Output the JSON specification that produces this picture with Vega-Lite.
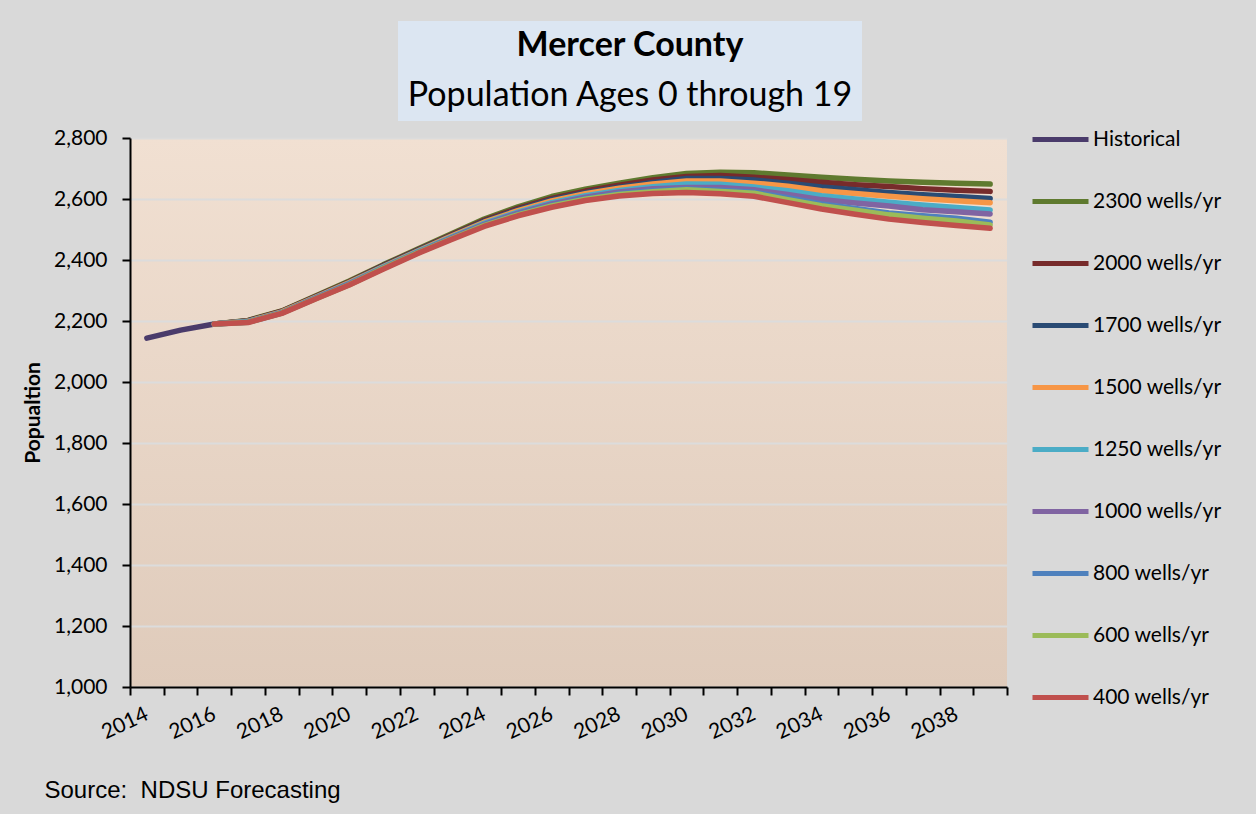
{
  "$schema": "https://vega.github.io/schema/vega-lite/v6.json",
  "background": "#d9d9d9",
  "padding": {"left": 22, "top": 21, "right": 34, "bottom": 23},
  "config": {"font": "Lato", "view": {"stroke": null}},
  "spacing": -12,
  "resolve": {"legend": {"color": "independent"}},
  "vconcat": [
    {
      "spacing": 0,
      "hconcat": [
        {
          "width": 268,
          "height": 100,
          "data": {"values": []},
          "mark": {"type": "text"},
          "encoding": {}
        },
        {
          "width": 464,
          "height": 100,
          "view": {"fill": "#dce6f2", "stroke": null},
          "layer": [
            {
              "data": {"values": [{"line": 1, "text": "Mercer County"}]},
              "mark": {"type": "text", "font": "Lato", "fontSize": 34, "fontWeight": "bold", "color": "#000", "baseline": "middle"},
              "encoding": {
                "y": {"field": "line", "type": "ordinal", "axis": null, "scale": {"domain": [1, 2], "padding": 0.5}},
                "text": {"field": "text"}
              }
            },
            {
              "data": {"values": [{"line": 2, "text": "Population Ages 0 through 19"}]},
              "mark": {"type": "text", "font": "Lato", "fontSize": 34, "fontWeight": "normal", "color": "#000", "baseline": "middle"},
              "encoding": {
                "y": {"field": "line", "type": "ordinal", "axis": null, "scale": {"domain": [1, 2], "padding": 0.5}},
                "text": {"field": "text"}
              }
            }
          ]
        }
      ]
    },
    {
      "width": 877,
      "height": 549,
      "view": {"fill": {"gradient": "linear", "x1": 0, "y1": 0, "x2": 0, "y2": 1, "stops": [{"offset": 0, "color": "#f1e0d2"}, {"offset": 1, "color": "#dfcbbb"}]}, "stroke": null},
      "title": {"text": "Source:\u00a0 NDSU Forecasting", "orient": "bottom", "anchor": "start", "frame": "bounds", "font": "Liberation Sans", "fontSize": 24, "fontWeight": "normal", "color": "#000", "dx": 22, "offset": 36},
      "data": {"values": [
        {"year": 2014, "series": "Historical", "pop": 2144},
        {"year": 2015, "series": "Historical", "pop": 2170},
        {"year": 2016, "series": "Historical", "pop": 2190},
        {"year": 2016, "series": "2300 wells/yr", "pop": 2190},
        {"year": 2017, "series": "2300 wells/yr", "pop": 2202},
        {"year": 2018, "series": "2300 wells/yr", "pop": 2233},
        {"year": 2019, "series": "2300 wells/yr", "pop": 2282},
        {"year": 2020, "series": "2300 wells/yr", "pop": 2331},
        {"year": 2021, "series": "2300 wells/yr", "pop": 2384},
        {"year": 2022, "series": "2300 wells/yr", "pop": 2434},
        {"year": 2023, "series": "2300 wells/yr", "pop": 2484},
        {"year": 2024, "series": "2300 wells/yr", "pop": 2534},
        {"year": 2025, "series": "2300 wells/yr", "pop": 2574},
        {"year": 2026, "series": "2300 wells/yr", "pop": 2608},
        {"year": 2027, "series": "2300 wells/yr", "pop": 2632},
        {"year": 2028, "series": "2300 wells/yr", "pop": 2652},
        {"year": 2029, "series": "2300 wells/yr", "pop": 2670},
        {"year": 2030, "series": "2300 wells/yr", "pop": 2684},
        {"year": 2031, "series": "2300 wells/yr", "pop": 2688},
        {"year": 2032, "series": "2300 wells/yr", "pop": 2686},
        {"year": 2033, "series": "2300 wells/yr", "pop": 2679},
        {"year": 2034, "series": "2300 wells/yr", "pop": 2671},
        {"year": 2035, "series": "2300 wells/yr", "pop": 2665},
        {"year": 2036, "series": "2300 wells/yr", "pop": 2659},
        {"year": 2037, "series": "2300 wells/yr", "pop": 2655},
        {"year": 2038, "series": "2300 wells/yr", "pop": 2652},
        {"year": 2039, "series": "2300 wells/yr", "pop": 2649},
        {"year": 2016, "series": "2000 wells/yr", "pop": 2190},
        {"year": 2017, "series": "2000 wells/yr", "pop": 2201},
        {"year": 2018, "series": "2000 wells/yr", "pop": 2232},
        {"year": 2019, "series": "2000 wells/yr", "pop": 2280},
        {"year": 2020, "series": "2000 wells/yr", "pop": 2329},
        {"year": 2021, "series": "2000 wells/yr", "pop": 2382},
        {"year": 2022, "series": "2000 wells/yr", "pop": 2432},
        {"year": 2023, "series": "2000 wells/yr", "pop": 2481},
        {"year": 2024, "series": "2000 wells/yr", "pop": 2530},
        {"year": 2025, "series": "2000 wells/yr", "pop": 2569},
        {"year": 2026, "series": "2000 wells/yr", "pop": 2602},
        {"year": 2027, "series": "2000 wells/yr", "pop": 2626},
        {"year": 2028, "series": "2000 wells/yr", "pop": 2645},
        {"year": 2029, "series": "2000 wells/yr", "pop": 2662},
        {"year": 2030, "series": "2000 wells/yr", "pop": 2674},
        {"year": 2031, "series": "2000 wells/yr", "pop": 2677},
        {"year": 2032, "series": "2000 wells/yr", "pop": 2671},
        {"year": 2033, "series": "2000 wells/yr", "pop": 2664},
        {"year": 2034, "series": "2000 wells/yr", "pop": 2655},
        {"year": 2035, "series": "2000 wells/yr", "pop": 2647},
        {"year": 2036, "series": "2000 wells/yr", "pop": 2641},
        {"year": 2037, "series": "2000 wells/yr", "pop": 2634},
        {"year": 2038, "series": "2000 wells/yr", "pop": 2629},
        {"year": 2039, "series": "2000 wells/yr", "pop": 2625},
        {"year": 2016, "series": "1700 wells/yr", "pop": 2190},
        {"year": 2017, "series": "1700 wells/yr", "pop": 2200},
        {"year": 2018, "series": "1700 wells/yr", "pop": 2231},
        {"year": 2019, "series": "1700 wells/yr", "pop": 2279},
        {"year": 2020, "series": "1700 wells/yr", "pop": 2327},
        {"year": 2021, "series": "1700 wells/yr", "pop": 2380},
        {"year": 2022, "series": "1700 wells/yr", "pop": 2430},
        {"year": 2023, "series": "1700 wells/yr", "pop": 2479},
        {"year": 2024, "series": "1700 wells/yr", "pop": 2527},
        {"year": 2025, "series": "1700 wells/yr", "pop": 2565},
        {"year": 2026, "series": "1700 wells/yr", "pop": 2598},
        {"year": 2027, "series": "1700 wells/yr", "pop": 2621},
        {"year": 2028, "series": "1700 wells/yr", "pop": 2639},
        {"year": 2029, "series": "1700 wells/yr", "pop": 2654},
        {"year": 2030, "series": "1700 wells/yr", "pop": 2667},
        {"year": 2031, "series": "1700 wells/yr", "pop": 2667},
        {"year": 2032, "series": "1700 wells/yr", "pop": 2662},
        {"year": 2033, "series": "1700 wells/yr", "pop": 2652},
        {"year": 2034, "series": "1700 wells/yr", "pop": 2639},
        {"year": 2035, "series": "1700 wells/yr", "pop": 2630},
        {"year": 2036, "series": "1700 wells/yr", "pop": 2621},
        {"year": 2037, "series": "1700 wells/yr", "pop": 2614},
        {"year": 2038, "series": "1700 wells/yr", "pop": 2608},
        {"year": 2039, "series": "1700 wells/yr", "pop": 2602},
        {"year": 2016, "series": "1500 wells/yr", "pop": 2190},
        {"year": 2017, "series": "1500 wells/yr", "pop": 2199},
        {"year": 2018, "series": "1500 wells/yr", "pop": 2230},
        {"year": 2019, "series": "1500 wells/yr", "pop": 2278},
        {"year": 2020, "series": "1500 wells/yr", "pop": 2326},
        {"year": 2021, "series": "1500 wells/yr", "pop": 2378},
        {"year": 2022, "series": "1500 wells/yr", "pop": 2428},
        {"year": 2023, "series": "1500 wells/yr", "pop": 2477},
        {"year": 2024, "series": "1500 wells/yr", "pop": 2524},
        {"year": 2025, "series": "1500 wells/yr", "pop": 2562},
        {"year": 2026, "series": "1500 wells/yr", "pop": 2594},
        {"year": 2027, "series": "1500 wells/yr", "pop": 2617},
        {"year": 2028, "series": "1500 wells/yr", "pop": 2635},
        {"year": 2029, "series": "1500 wells/yr", "pop": 2649},
        {"year": 2030, "series": "1500 wells/yr", "pop": 2659},
        {"year": 2031, "series": "1500 wells/yr", "pop": 2659},
        {"year": 2032, "series": "1500 wells/yr", "pop": 2652},
        {"year": 2033, "series": "1500 wells/yr", "pop": 2642},
        {"year": 2034, "series": "1500 wells/yr", "pop": 2627},
        {"year": 2035, "series": "1500 wells/yr", "pop": 2618},
        {"year": 2036, "series": "1500 wells/yr", "pop": 2609},
        {"year": 2037, "series": "1500 wells/yr", "pop": 2601},
        {"year": 2038, "series": "1500 wells/yr", "pop": 2594},
        {"year": 2039, "series": "1500 wells/yr", "pop": 2588},
        {"year": 2016, "series": "1250 wells/yr", "pop": 2190},
        {"year": 2017, "series": "1250 wells/yr", "pop": 2198},
        {"year": 2018, "series": "1250 wells/yr", "pop": 2228},
        {"year": 2019, "series": "1250 wells/yr", "pop": 2276},
        {"year": 2020, "series": "1250 wells/yr", "pop": 2324},
        {"year": 2021, "series": "1250 wells/yr", "pop": 2376},
        {"year": 2022, "series": "1250 wells/yr", "pop": 2426},
        {"year": 2023, "series": "1250 wells/yr", "pop": 2474},
        {"year": 2024, "series": "1250 wells/yr", "pop": 2520},
        {"year": 2025, "series": "1250 wells/yr", "pop": 2557},
        {"year": 2026, "series": "1250 wells/yr", "pop": 2588},
        {"year": 2027, "series": "1250 wells/yr", "pop": 2611},
        {"year": 2028, "series": "1250 wells/yr", "pop": 2628},
        {"year": 2029, "series": "1250 wells/yr", "pop": 2640},
        {"year": 2030, "series": "1250 wells/yr", "pop": 2649},
        {"year": 2031, "series": "1250 wells/yr", "pop": 2648},
        {"year": 2032, "series": "1250 wells/yr", "pop": 2639},
        {"year": 2033, "series": "1250 wells/yr", "pop": 2627},
        {"year": 2034, "series": "1250 wells/yr", "pop": 2611},
        {"year": 2035, "series": "1250 wells/yr", "pop": 2600},
        {"year": 2036, "series": "1250 wells/yr", "pop": 2589},
        {"year": 2037, "series": "1250 wells/yr", "pop": 2580},
        {"year": 2038, "series": "1250 wells/yr", "pop": 2572},
        {"year": 2039, "series": "1250 wells/yr", "pop": 2564},
        {"year": 2016, "series": "1000 wells/yr", "pop": 2190},
        {"year": 2017, "series": "1000 wells/yr", "pop": 2197},
        {"year": 2018, "series": "1000 wells/yr", "pop": 2227},
        {"year": 2019, "series": "1000 wells/yr", "pop": 2275},
        {"year": 2020, "series": "1000 wells/yr", "pop": 2322},
        {"year": 2021, "series": "1000 wells/yr", "pop": 2374},
        {"year": 2022, "series": "1000 wells/yr", "pop": 2424},
        {"year": 2023, "series": "1000 wells/yr", "pop": 2471},
        {"year": 2024, "series": "1000 wells/yr", "pop": 2517},
        {"year": 2025, "series": "1000 wells/yr", "pop": 2554},
        {"year": 2026, "series": "1000 wells/yr", "pop": 2584},
        {"year": 2027, "series": "1000 wells/yr", "pop": 2606},
        {"year": 2028, "series": "1000 wells/yr", "pop": 2623},
        {"year": 2029, "series": "1000 wells/yr", "pop": 2634},
        {"year": 2030, "series": "1000 wells/yr", "pop": 2638},
        {"year": 2031, "series": "1000 wells/yr", "pop": 2638},
        {"year": 2032, "series": "1000 wells/yr", "pop": 2630},
        {"year": 2033, "series": "1000 wells/yr", "pop": 2615},
        {"year": 2034, "series": "1000 wells/yr", "pop": 2598},
        {"year": 2035, "series": "1000 wells/yr", "pop": 2587},
        {"year": 2036, "series": "1000 wells/yr", "pop": 2577},
        {"year": 2037, "series": "1000 wells/yr", "pop": 2565},
        {"year": 2038, "series": "1000 wells/yr", "pop": 2558},
        {"year": 2039, "series": "1000 wells/yr", "pop": 2551},
        {"year": 2016, "series": "800 wells/yr", "pop": 2190},
        {"year": 2017, "series": "800 wells/yr", "pop": 2196},
        {"year": 2018, "series": "800 wells/yr", "pop": 2226},
        {"year": 2019, "series": "800 wells/yr", "pop": 2274},
        {"year": 2020, "series": "800 wells/yr", "pop": 2320},
        {"year": 2021, "series": "800 wells/yr", "pop": 2372},
        {"year": 2022, "series": "800 wells/yr", "pop": 2422},
        {"year": 2023, "series": "800 wells/yr", "pop": 2469},
        {"year": 2024, "series": "800 wells/yr", "pop": 2514},
        {"year": 2025, "series": "800 wells/yr", "pop": 2550},
        {"year": 2026, "series": "800 wells/yr", "pop": 2579},
        {"year": 2027, "series": "800 wells/yr", "pop": 2601},
        {"year": 2028, "series": "800 wells/yr", "pop": 2617},
        {"year": 2029, "series": "800 wells/yr", "pop": 2627},
        {"year": 2030, "series": "800 wells/yr", "pop": 2633},
        {"year": 2031, "series": "800 wells/yr", "pop": 2629},
        {"year": 2032, "series": "800 wells/yr", "pop": 2622},
        {"year": 2033, "series": "800 wells/yr", "pop": 2604},
        {"year": 2034, "series": "800 wells/yr", "pop": 2584},
        {"year": 2035, "series": "800 wells/yr", "pop": 2569},
        {"year": 2036, "series": "800 wells/yr", "pop": 2554},
        {"year": 2037, "series": "800 wells/yr", "pop": 2545},
        {"year": 2038, "series": "800 wells/yr", "pop": 2537},
        {"year": 2039, "series": "800 wells/yr", "pop": 2524},
        {"year": 2016, "series": "600 wells/yr", "pop": 2190},
        {"year": 2017, "series": "600 wells/yr", "pop": 2196},
        {"year": 2018, "series": "600 wells/yr", "pop": 2226},
        {"year": 2019, "series": "600 wells/yr", "pop": 2273},
        {"year": 2020, "series": "600 wells/yr", "pop": 2319},
        {"year": 2021, "series": "600 wells/yr", "pop": 2372},
        {"year": 2022, "series": "600 wells/yr", "pop": 2422},
        {"year": 2023, "series": "600 wells/yr", "pop": 2468},
        {"year": 2024, "series": "600 wells/yr", "pop": 2513},
        {"year": 2025, "series": "600 wells/yr", "pop": 2548},
        {"year": 2026, "series": "600 wells/yr", "pop": 2577},
        {"year": 2027, "series": "600 wells/yr", "pop": 2599},
        {"year": 2028, "series": "600 wells/yr", "pop": 2615},
        {"year": 2029, "series": "600 wells/yr", "pop": 2624},
        {"year": 2030, "series": "600 wells/yr", "pop": 2630},
        {"year": 2031, "series": "600 wells/yr", "pop": 2625},
        {"year": 2032, "series": "600 wells/yr", "pop": 2619},
        {"year": 2033, "series": "600 wells/yr", "pop": 2598},
        {"year": 2034, "series": "600 wells/yr", "pop": 2578},
        {"year": 2035, "series": "600 wells/yr", "pop": 2563},
        {"year": 2036, "series": "600 wells/yr", "pop": 2548},
        {"year": 2037, "series": "600 wells/yr", "pop": 2537},
        {"year": 2038, "series": "600 wells/yr", "pop": 2528},
        {"year": 2039, "series": "600 wells/yr", "pop": 2515},
        {"year": 2016, "series": "400 wells/yr", "pop": 2190},
        {"year": 2017, "series": "400 wells/yr", "pop": 2195},
        {"year": 2018, "series": "400 wells/yr", "pop": 2225},
        {"year": 2019, "series": "400 wells/yr", "pop": 2272},
        {"year": 2020, "series": "400 wells/yr", "pop": 2318},
        {"year": 2021, "series": "400 wells/yr", "pop": 2370},
        {"year": 2022, "series": "400 wells/yr", "pop": 2420},
        {"year": 2023, "series": "400 wells/yr", "pop": 2466},
        {"year": 2024, "series": "400 wells/yr", "pop": 2510},
        {"year": 2025, "series": "400 wells/yr", "pop": 2545},
        {"year": 2026, "series": "400 wells/yr", "pop": 2573},
        {"year": 2027, "series": "400 wells/yr", "pop": 2595},
        {"year": 2028, "series": "400 wells/yr", "pop": 2610},
        {"year": 2029, "series": "400 wells/yr", "pop": 2618},
        {"year": 2030, "series": "400 wells/yr", "pop": 2621},
        {"year": 2031, "series": "400 wells/yr", "pop": 2617},
        {"year": 2032, "series": "400 wells/yr", "pop": 2609},
        {"year": 2033, "series": "400 wells/yr", "pop": 2588},
        {"year": 2034, "series": "400 wells/yr", "pop": 2567},
        {"year": 2035, "series": "400 wells/yr", "pop": 2550},
        {"year": 2036, "series": "400 wells/yr", "pop": 2534},
        {"year": 2037, "series": "400 wells/yr", "pop": 2523},
        {"year": 2038, "series": "400 wells/yr", "pop": 2513},
        {"year": 2039, "series": "400 wells/yr", "pop": 2504}
      ]},
      "mark": {"type": "line", "strokeWidth": 5.5, "strokeCap": "round", "strokeJoin": "round"},
      "encoding": {
        "x": {
          "field": "year", "type": "ordinal", "bandPosition": 0.5,
          "scale": {"type": "band", "domain": [2014,2015,2016,2017,2018,2019,2020,2021,2022,2023,2024,2025,2026,2027,2028,2029,2030,2031,2032,2033,2034,2035,2036,2037,2038,2039], "paddingInner": 0, "paddingOuter": 0},
          "axis": {
            "title": null, "grid": false, "tickBand": "extent",
            "domainColor": "#000", "domainWidth": 2, "tickColor": "#000", "tickWidth": 2, "tickSize": 8,
            "labelExpr": "datum.value % 2 == 0 ? datum.label : ''",
            "labelOverlap": false, "labelAngle": -25, "labelAlign": "right", "labelBaseline": "middle", "labelPadding": 18,
            "labelFont": "Lato", "labelFontSize": 21, "labelColor": "#000"
          }
        },
        "y": {
          "field": "pop", "type": "quantitative",
          "scale": {"domain": [1000, 2800], "nice": false, "zero": false},
          "axis": {
            "title": "Popualtion", "values": [1000,1200,1400,1600,1800,2000,2200,2400,2600,2800], "format": ",d",
            "domainColor": "#000", "domainWidth": 2, "tickColor": "#000", "tickWidth": 2, "tickSize": 8,
            "gridColor": "#dcdcdc", "gridWidth": 2,
            "labelPadding": 15, "labelFont": "Lato", "labelFontSize": 21, "labelColor": "#000",
            "titleFont": "Lato", "titleFontSize": 21, "titleFontWeight": "bold", "titleColor": "#000", "titlePadding": 10
          }
        },
        "color": {
          "field": "series", "type": "nominal",
          "scale": {
            "domain": ["Historical", "2300 wells/yr", "2000 wells/yr", "1700 wells/yr", "1500 wells/yr", "1250 wells/yr", "1000 wells/yr", "800 wells/yr", "600 wells/yr", "400 wells/yr"],
            "range": ["#4a3b6b", "#5f7a2f", "#772b2b", "#2a4b74", "#f79646", "#4bacc6", "#8064a2", "#4f81bd", "#9bbb59", "#c0504d"]
          },
          "legend": {
            "title": null, "orient": "none", "legendX": 900, "legendY": -29, "padding": 0,
            "symbolType": "stroke", "symbolSize": 3136, "symbolStrokeWidth": 5,
            "labelFont": "Lato", "labelFontSize": 21, "labelColor": "#000", "labelOffset": 2,
            "rowPadding": 21
          }
        }
      }
    }
  ]
}
